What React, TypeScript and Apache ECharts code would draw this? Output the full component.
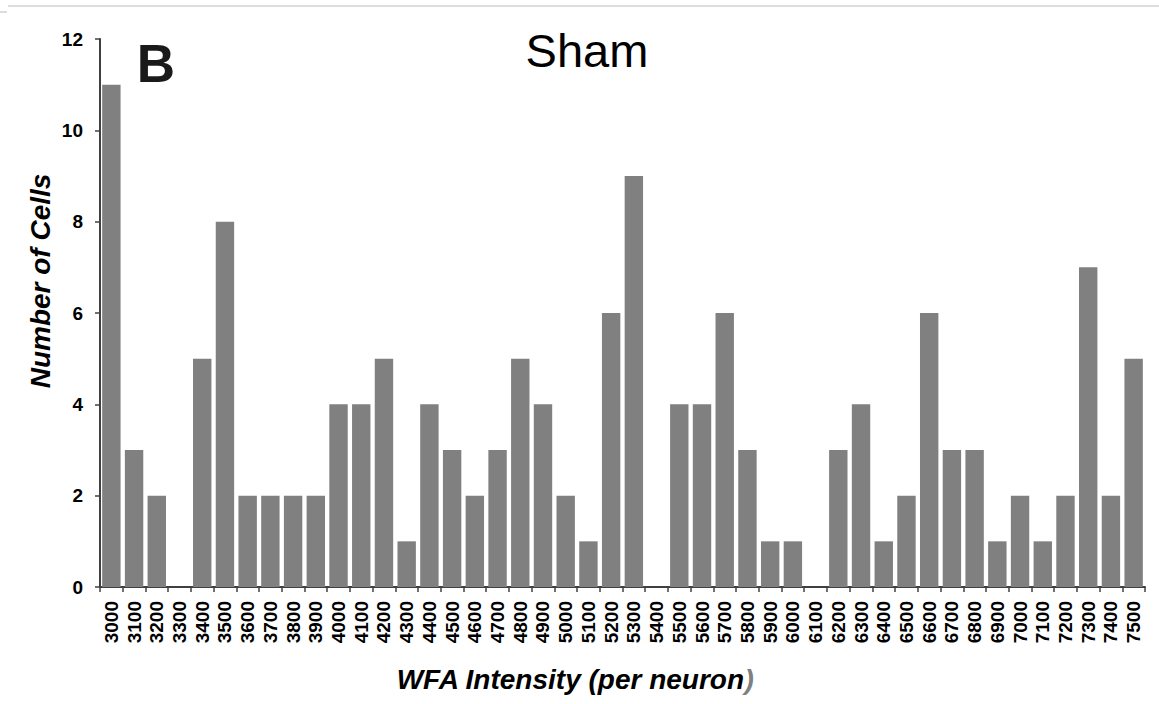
import React, { useEffect, useRef } from "react";
import * as echarts from "echarts";

const categories = [
  "3000", "3100", "3200", "3300", "3400", "3500", "3600", "3700", "3800", "3900",
  "4000", "4100", "4200", "4300", "4400", "4500", "4600", "4700", "4800", "4900",
  "5000", "5100", "5200", "5300", "5400", "5500", "5600", "5700", "5800", "5900",
  "6000", "6100", "6200", "6300", "6400", "6500", "6600", "6700", "6800", "6900",
  "7000", "7100", "7200", "7300", "7400", "7500",
];

const cellCounts = [
  11, 3, 2, 0, 5, 8, 2, 2, 2, 2,
  4, 4, 5, 1, 4, 3, 2, 3, 5, 4,
  2, 1, 6, 9, 0, 4, 4, 6, 3, 1,
  1, 0, 3, 4, 1, 2, 6, 3, 3, 1,
  2, 1, 2, 7, 2, 5,
];

const FONT = "'Liberation Sans', Arial, Helvetica, sans-serif";

export default function App() {
  const ref = useRef<HTMLDivElement>(null);
  useEffect(() => {
    if (!ref.current) return;
    const chart = echarts.init(ref.current, null, { renderer: "svg" });
    chart.setOption({
      animation: false,
      backgroundColor: "#ffffff",
      grid: { left: 100, right: 14, top: 39, bottom: 117, containLabel: false },
      xAxis: {
        type: "category",
        data: categories,
        axisLine: { lineStyle: { color: "#404040", width: 2 } },
        axisTick: { show: true, inside: false, length: 5, alignWithLabel: false, interval: 0, lineStyle: { color: "#404040", width: 1.5 } },
        axisLabel: {
          interval: 0,
          rotate: 90,
          margin: 14,
          fontFamily: FONT,
          fontWeight: "bold",
          fontSize: 19,
          color: "#000000",
        },
        splitLine: { show: false },
      },
      yAxis: {
        type: "value",
        min: 0,
        max: 12,
        interval: 2,
        axisLine: { show: true, lineStyle: { color: "#404040", width: 2 } },
        axisTick: { show: true, inside: false, length: 5, lineStyle: { color: "#404040", width: 1.5 } },
        axisLabel: {
          margin: 17,
          fontFamily: FONT,
          fontWeight: "bold",
          fontSize: 19,
          color: "#000000",
        },
        splitLine: { show: false },
      },
      series: [
        {
          type: "bar",
          data: cellCounts,
          barCategoryGap: "19%",
          itemStyle: { color: "#808080" },
        },
      ],
      graphic: [
        { type: "line", shape: { x1: 8, y1: 6, x2: 1159, y2: 6 }, style: { stroke: "#dddddd", lineWidth: 2 } },
        { type: "line", shape: { x1: 0, y1: 12, x2: 7, y2: 12 }, style: { stroke: "#dddddd", lineWidth: 2 } },
        {
          type: "text",
          x: 587,
          y: 50,
          style: {
            text: "Sham",
            fontFamily: FONT,
            fontSize: 47,
            fill: "#000000",
            textAlign: "center",
            textVerticalAlign: "middle",
          },
        },
        {
          type: "text",
          x: 156,
          y: 63,
          style: {
            text: "B",
            fontFamily: FONT,
            fontWeight: "bold",
            fontSize: 53,
            fill: "#1a1a1a",
            textAlign: "center",
            textVerticalAlign: "middle",
          },
        },
        {
          type: "text",
          x: 40,
          y: 281,
          rotation: Math.PI / 2,
          style: {
            text: "Number of Cells",
            fontFamily: FONT,
            fontWeight: "bold",
            fontStyle: "italic",
            fontSize: 28,
            fill: "#000000",
            textAlign: "center",
            textVerticalAlign: "middle",
          },
        },
        {
          type: "text",
          x: 575,
          y: 679,
          style: {
            text: "WFA Intensity (per neuron{g|)}",
            fontFamily: FONT,
            fontWeight: "bold",
            fontStyle: "italic",
            fontSize: 28,
            fill: "#000000",
            textAlign: "center",
            textVerticalAlign: "middle",
            rich: {
              g: {
                fontFamily: FONT,
                fontWeight: "bold",
                fontStyle: "italic",
                fontSize: 28,
                fill: "#808080",
                color: "#808080",
              },
            },
          },
        },
      ],
    });
    return () => chart.dispose();
  }, []);
  return <div ref={ref} style={{ width: 1159, height: 704, position: "absolute", left: 0, top: 0 }} />;
}
